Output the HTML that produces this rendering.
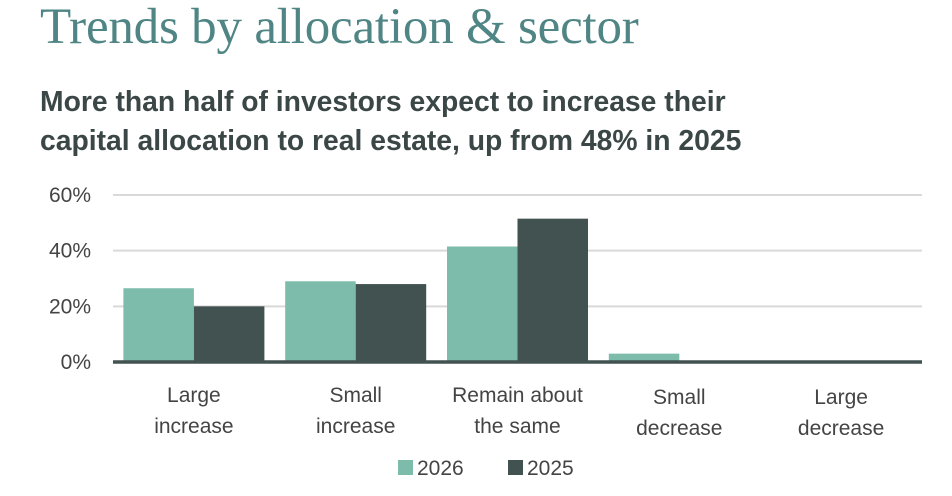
<!DOCTYPE html>
<html><head><meta charset="utf-8"><style>
body{margin:0;background:#fff;width:952px;height:496px;overflow:hidden;font-family:"Liberation Sans",sans-serif}
#title{position:absolute;left:40px;top:-2px;font-family:"Liberation Serif",serif;font-size:51px;color:#4f8584;margin:0;font-weight:normal;letter-spacing:-0.2px;white-space:nowrap}
#sub{position:absolute;left:40px;top:82px;font-size:28.3px;font-weight:bold;color:#3b4746;line-height:39px;margin:0;white-space:nowrap}
svg{position:absolute;left:0;top:0}
</style></head><body>
<h1 id="title">Trends by allocation &amp; sector</h1>
<p id="sub">More than half of investors expect to increase their<br>capital allocation to real estate, up from 48% in 2025</p>
<svg id="chart" width="952" height="496"></svg>
<script>
const categories=[["Large","increase"],["Small","increase"],["Remain about","the same"],["Small","decrease"],["Large","decrease"]];
const series2026=[26.5,29,41.5,3,0];
const series2025=[20,28,51.5,0.5,0];
const yTicks=[0,20,40,60];
const seriesNames=["2026","2025"];
const colors=["#7dbbaa","#425251"];
const NS="http://www.w3.org/2000/svg";
const svg=document.getElementById('chart');
const x0=113,x1=922,y0=362,yTop=195,yMax=60;
const gw=(x1-x0)/categories.length,bw=70.5;
const y=v=>y0-(v/yMax)*(y0-yTop);
const gx=i=>x0+i*gw+(gw-2*bw)/2;
function mk(t,a){const e=document.createElementNS(NS,t);for(const k in a)e.setAttribute(k,a[k]);svg.appendChild(e);return e;}
yTicks.forEach(t=>{
 if(t>0){const l=mk('line',{x1:x0,x2:x1,y1:y(t),y2:y(t),stroke:'#d9d9d9','stroke-width':2});
 
 }
 const tx=mk('text',{x:91,y:y(t)+7,'text-anchor':'end','font-size':21,fill:'#444'});
 tx.textContent=t+'%';
 
 
});
[series2026,series2025].forEach((s,si)=>{
 s.forEach((v,i)=>{
  const r=mk('rect',{x:gx(i)+si*bw,y:y(v),width:bw,height:y0-y(v),fill:colors[si]});
  
  
 });
});
const base=mk('line',{x1:x0,x2:x1,y1:y0,y2:y0,stroke:'#425251','stroke-width':3.5});


categories.forEach((c,i)=>{
 c.forEach((ln,j)=>{
  const t=mk('text',{x:x0+i*gw+gw/2,y:402+j*31+(i>=3?2:0),'text-anchor':'middle','font-size':21,fill:'#444'});
  t.textContent=ln;
  
  
 });
});
const lx=[398,508];
seriesNames.forEach((n,i)=>{
 const r=mk('rect',{x:lx[i],y:460,width:15,height:15,fill:colors[i]});
 
 
 const t=mk('text',{x:lx[i]+19,y:475,'font-size':21,fill:'#444'});
 t.textContent=n;
 
 
});
</script>
</body></html>
